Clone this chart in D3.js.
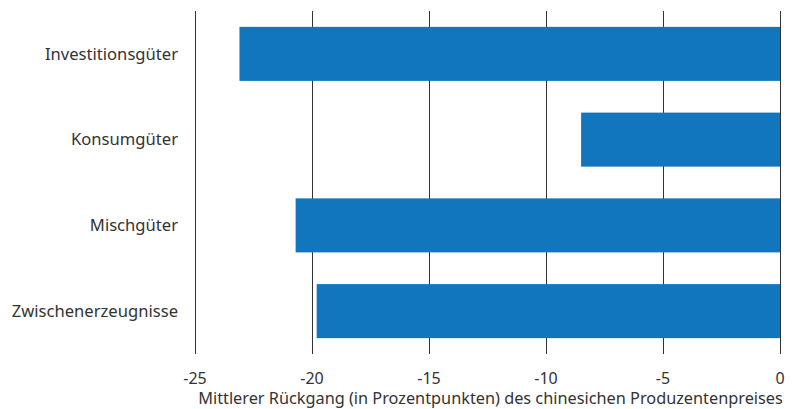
<!DOCTYPE html>
<html>
<head>
<meta charset="utf-8">
<script src="https://cdn.jsdelivr.net/npm/d3@7"></script>
<style>
  body { margin: 0; background: #fff; }
  text { font-family: "Noto Sans", sans-serif; fill: #333; }
</style>
</head>
<body>
<svg id="chart" width="793" height="409"></svg>
<script>
const categories = ["Investitionsgüter", "Konsumgüter", "Mischgüter", "Zwischenerzeugnisse"];
const values = [-23.1, -8.5, -20.7, -19.8];
const tickValues = [-25, -20, -15, -10, -5, 0];
const axisTitle = "Mittlerer Rückgang (in Prozentpunkten) des chinesichen Produzentenpreises";

const margin = { top: 11, left: 195, right: 13, bottom: 55 };
const width = 793;
const height = 409;

const svg = d3.select("#chart");

const x = d3.scaleLinear()
  .domain([-25, 0])
  .range([margin.left, width - margin.right]);

const y = d3.scaleBand()
  .domain(categories)
  .range([margin.top, height - margin.bottom])
  .paddingInner(0.37)
  .paddingOuter(0.185);

// gridlines
svg.append("g")
  .selectAll("line")
  .data(tickValues)
  .join("line")
  .attr("x1", (d) => x(d) + 0.5)
  .attr("x2", (d) => x(d) + 0.5)
  .attr("y1", margin.top)
  .attr("y2", height - margin.bottom)
  .attr("stroke", "#333")
  .attr("stroke-width", 1);

// bars
svg.append("g")
  .selectAll("rect")
  .data(values)
  .join("rect")
  .attr("x", (d) => x(Math.min(d, 0)))
  .attr("y", (d, i) => y(categories[i]))
  .attr("width", (d) => Math.abs(x(d) - x(0)))
  .attr("height", y.bandwidth())
  .attr("fill", "#1176bd");

// category labels
svg.append("g")
  .selectAll("text")
  .data(categories)
  .join("text")
  .attr("x", margin.left - 17)
  .attr("y", (d) => y(d) + y.bandwidth() / 2)
  .attr("dy", "0.35em")
  .attr("text-anchor", "end")
  .style("font-size", "16.6px")
  .text((d) => d);

// tick labels
svg.append("g")
  .selectAll("text")
  .data(tickValues)
  .join("text")
  .attr("x", (d) => x(d))
  .attr("y", 384)
  .attr("text-anchor", "middle")
  .style("font-size", "16px")
  .text((d) => d);

svg.append("text")
  .attr("x", (margin.left + width - margin.right) / 2 + 3)
  .attr("y", 404)
  .attr("text-anchor", "middle")
  .style("font-size", "16.3px")
  .text(axisTitle);
</script>
</body>
</html>
